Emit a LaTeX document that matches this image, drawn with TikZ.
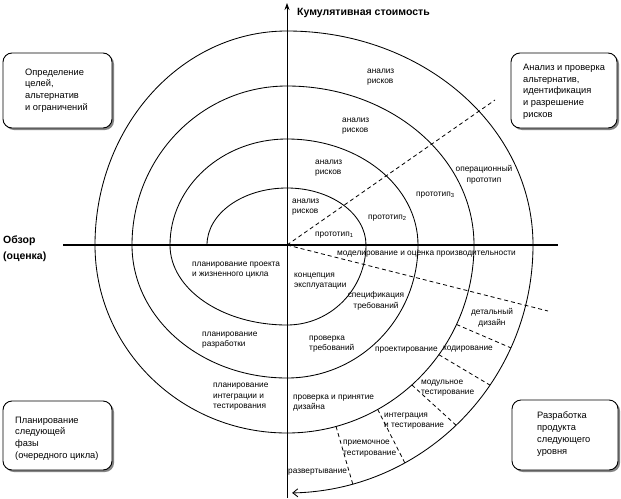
\documentclass[tikz,border=0pt]{standalone}
\usepackage{fontspec}
\setmainfont{Liberation Sans}
\usetikzlibrary{arrows.meta,shadows,calc}
\begin{document}
\begin{tikzpicture}[x=1pt,y=-1pt,
  lbl/.style={font=\fontsize{8.3}{10.6}\selectfont, inner sep=0pt, align=left, anchor=west},
  lblc/.style={lbl, align=center, anchor=center},
  boxr/.style={draw, rounded corners=9pt, line width=0.9pt, fill=white,
    drop shadow={shadow xshift=2pt, shadow yshift=-2pt, fill=black!60, opacity=0.8},
    minimum width=109pt, minimum height=75pt, inner sep=0pt},
  boxtxt/.style={font=\fontsize{9.3}{11.7}\selectfont, inner sep=0pt, align=left, anchor=west},
  bold/.style={font=\fontsize{10.5}{16.5}\selectfont\bfseries, inner sep=0pt, align=left, anchor=west},
  dsh/.style={dash pattern=on 4pt off 3pt, line width=0.8pt},
  spiral/.style={line width=0.85pt}]
\useasboundingbox (0,0) rectangle (621,498);
\fill[white] (0,0) rectangle (621,498);

% boxes
\node[boxr] (b1) at (57.5,90.5) {};
\node[boxtxt] (t1) at (25,90.5) {Определение\\целей,\\альтернатив\\и ограничений};
\node[boxr, minimum width=106pt] (b2) at (564,90.5) {};
\node[boxtxt] (t2) at (523,91.5) {Анализ и проверка\\альтернатив,\\идентификация\\и разрешение\\рисков};
\node[boxr, minimum height=69pt] (b3) at (57.5,435.5) {};
\node[boxtxt] (t3) at (15,438.5) {Планирование\\следующей\\фазы\\(очередного цикла)};
\node[boxr, minimum width=106pt, minimum height=70pt] (b4) at (565,435) {};
\node[boxtxt] (t4) at (537,434) {Разработка\\продукта\\следующего\\уровня};

% axes
\coordinate (O) at (287,245);
\coordinate (top) at (287,3);
\coordinate (bot) at (287,498);
\coordinate (left) at (63,245);
\coordinate (right) at (558,245);
\draw[line width=0.8pt, -{Stealth[length=7pt,width=5pt]}] (bot) -- (top);
\draw[line width=1.3pt] (left) -- (right);

% spiral
\coordinate (s0) at (207,245);
\draw[spiral, -{Straight Barb[length=5pt,width=8pt]}] (s0)
  arc[start angle=180, end angle=270, x radius=80, y radius=57]
  arc[start angle=270, end angle=360, x radius=79, y radius=57]
  arc[start angle=0, end angle=90, x radius=79, y radius=80]
  arc[start angle=90, end angle=180, x radius=117, y radius=80]
  arc[start angle=180, end angle=270, x radius=117, y radius=106]
  arc[start angle=270, end angle=360, x radius=131, y radius=106]
  arc[start angle=0, end angle=90, x radius=131, y radius=133]
  arc[start angle=90, end angle=180, x radius=155, y radius=133]
  arc[start angle=180, end angle=270, x radius=155, y radius=159]
  arc[start angle=270, end angle=360, x radius=187, y radius=159]
  arc[start angle=0, end angle=90, x radius=187, y radius=188]
  arc[start angle=90, end angle=180, x radius=192, y radius=188]
  arc[start angle=180, end angle=270, x radius=192, y radius=214]
  arc[start angle=270, end angle=360, x radius=246, y radius=214]
  arc[start angle=0, end angle=88.8, x radius=246, y radius=248];

% dashed lines
\coordinate (d1) at (495,100);
\coordinate (d2) at (548,311);
\draw[dsh] (O) -- (d1);
\draw[dsh] (O) -- (d2);
\coordinate (r1a) at ($(O)+(25:187 and 188)$);
\coordinate (r1b) at ($(O)+(24.5:246 and 248)$);
\coordinate (r2a) at ($(O)+(35.7:187 and 188)$);
\coordinate (r2b) at ($(O)+(34.4:246 and 248)$);
\coordinate (r3a) at ($(O)+(48.1:187 and 188)$);
\coordinate (r3b) at ($(O)+(46.6:246 and 248)$);
\coordinate (r4a) at ($(O)+(61:187 and 188)$);
\coordinate (r4b) at ($(O)+(61.4:246 and 248)$);
\coordinate (r5a) at ($(O)+(74.8:187 and 188)$);
\coordinate (r5b) at ($(O)+(74.5:246 and 248)$);
\draw[dsh] (r1a) -- (r1b);
\draw[dsh] (r2a) -- (r2b);
\draw[dsh] (r3a) -- (r3b);
\draw[dsh] (r4a) -- (r4b);
\draw[dsh] (r5a) -- (r5b);

% titles
\node[bold] (ttop) at (297,13) {Кумулятивная стоимость};
\node[bold] (tleft) at (3,248.5) {Обзор\\(оценка)};

% upper right labels
\node[lbl] (a1) at (367,77) {анализ\\рисков};
\node[lbl] (a2) at (342,126) {анализ\\рисков};
\node[lbl] (a3) at (315,168) {анализ\\рисков};
\node[lbl] (a4) at (292,207) {анализ\\рисков};
\node[lbl] (p1) at (315,235) {прототип\textsubscript{1}};
\node[lbl] (p2) at (368,218) {прототип\textsubscript{2}};
\node[lbl] (p3) at (416,195) {прототип\textsubscript{3}};
\node[lblc] (p4) at (484,175) {операционный\\прототип};

% lower right labels
\node[lbl] (m1) at (337,254) {моделирование и оценка производительности};
\node[lbl] (c1) at (294,281) {концепция\\эксплуатации};
\node[lblc] (c2) at (376,301) {спецификация\\требований};
\node[lbl] (c3) at (309,344) {проверка\\требований};
\node[lbl] (c4) at (375,350) {проектирование};
\node[lblc] (c5) at (492,318) {детальный\\дизайн};
\node[lbl] (c6) at (443,349) {кодирование};
\node[lbl] (c7) at (421,388) {модульное\\тестирование};
\node[lbl] (c8) at (384,421) {интеграция\\и тестирование};
\node[lbl] (c9) at (343,448.5) {приемочное\\тестирование};
\node[lbl] (c10) at (288,472) {развертывание};
\node[lbl] (c11) at (293,403) {проверка и принятие\\дизайна};

% lower left labels
\node[lbl] (l1) at (192,270) {планирование проекта\\и жизненного цикла};
\node[lbl] (l2) at (202,340) {планирование\\разработки};
\node[lbl] (l3) at (213,397) {планирование\\интеграции и\\тестирования};
\end{tikzpicture}
\end{document}
